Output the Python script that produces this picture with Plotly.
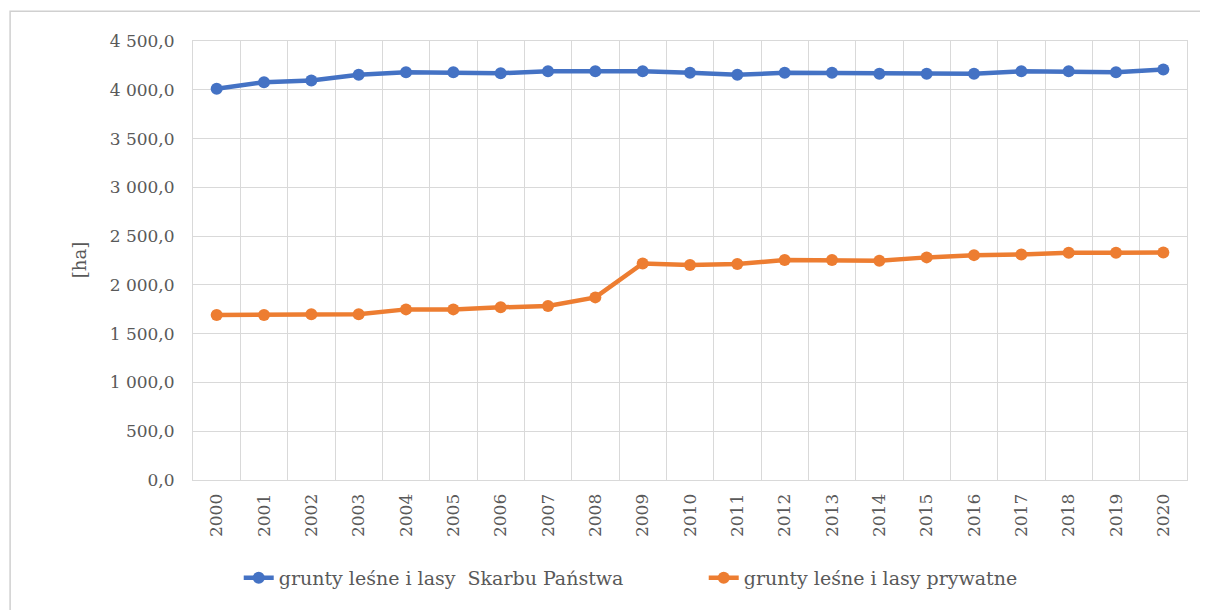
import plotly.graph_objects as go

years = [str(y) for y in range(2000, 2021)]
skarb_panstwa = [4010, 4078, 4095, 4154, 4180, 4180, 4170, 4190, 4190, 4190,
                 4174, 4154, 4174, 4174, 4164, 4164, 4164, 4190, 4190, 4180, 4208]
prywatne = [1691, 1691, 1698, 1698, 1749, 1749, 1770, 1783, 1872, 2220,
            2203, 2213, 2254, 2254, 2247, 2282, 2305, 2312, 2329, 2329, 2332]

BLUE = "#4472C4"
ORANGE = "#ED7D31"
GRAY = "#595959"
GRID = "#d9d9d9"
FONT = "DejaVu Serif"

fig = go.Figure()
fig.add_trace(go.Scatter(
    x=years, y=skarb_panstwa, mode="lines+markers",
    name="grunty leśne i lasy  Skarbu Państwa",
    line=dict(color=BLUE, width=4.5), marker=dict(color=BLUE, size=12),
))
fig.add_trace(go.Scatter(
    x=years, y=prywatne, mode="lines+markers",
    name="grunty leśne i lasy prywatne",
    line=dict(color=ORANGE, width=4.5), marker=dict(color=ORANGE, size=12),
))

fig.update_layout(
    width=1208, height=610,
    margin=dict(l=185, r=29, t=33, b=138, autoexpand=False),
    paper_bgcolor="white", plot_bgcolor="white",
    separators=", ",
    font=dict(family=FONT, size=15, color=GRAY),
    showlegend=True,
    legend=dict(orientation="h", x=0.046, xanchor="left", y=-0.223, yanchor="middle",
                font=dict(family=FONT, size=19, color=GRAY),
                entrywidth=420, traceorder="normal"),
    shapes=[dict(type="rect", xref="paper", yref="paper",
                 x0=-0.184, x1=1.06, y0=-0.36, y1=1.068,
                 line=dict(color="#d0d0d0", width=1.5), fillcolor="rgba(0,0,0,0)",
                 layer="below")],
    annotations=[dict(text="[ha]", xref="paper", yref="paper", x=-0.114, y=0.5,
                      textangle=-90, showarrow=False, xanchor="center", yanchor="middle",
                      font=dict(family=FONT, size=18, color=GRAY))],
)
fig.update_xaxes(
    type="category", range=[-0.5, len(years) - 0.5],
    tickson="boundaries", showgrid=True, gridcolor=GRID, gridwidth=1,
    showline=True, linecolor=GRID, mirror=True, ticks="", tickangle=-90,
    tickfont=dict(family=FONT, size=17, color=GRAY), automargin=False,
    ticklabelstandoff=6,
)
fig.update_yaxes(
    range=[0, 4500], dtick=500, tickformat=",.1f",
    showgrid=True, gridcolor=GRID, gridwidth=1,
    showline=True, linecolor=GRID, mirror=True, zeroline=False, ticks="",
    tickfont=dict(family=FONT, size=17, color=GRAY), automargin=False,
    ticklabelstandoff=14,
)

fig.write_html("out.html")
